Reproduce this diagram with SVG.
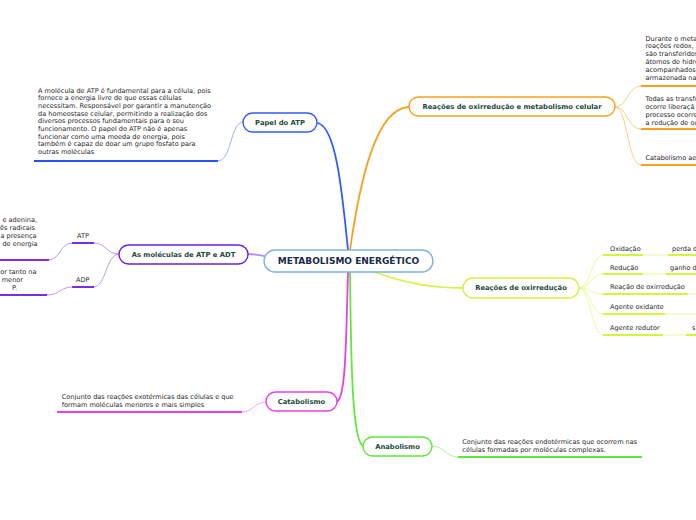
<svg xmlns="http://www.w3.org/2000/svg" width="696" height="520" viewBox="0 0 696 520">
<style>
.bg{fill:#ffffff}
.node{fill:#ffffff;stroke-width:1.4}
.lbl{font-family:"DejaVu Sans",Verdana,sans-serif;font-weight:bold;font-size:6.8px;fill:#1d4a3c;text-anchor:middle}
.center{font-family:"DejaVu Sans",Verdana,sans-serif;font-weight:bold;font-size:9px;fill:#1a2a4c;text-anchor:middle}
.txt{font-family:"DejaVu Sans",Verdana,sans-serif;font-size:6.55px;fill:#2a2a2a}
.end{text-anchor:end}
.c{fill:none;stroke-linecap:round}
.main{stroke-width:1.8}
.thin{stroke-width:0.9}
.ul{stroke-width:2;fill:none}
</style>
<rect class="bg" x="0" y="0" width="696" height="520"/>

<g id="connectors">
  <path class="c main" stroke="#2f5cf5" d="M348,250 C342,190 336,128 318,123"/>
  <path class="c main" stroke="#f7a11c" d="M350,250 C360,180 376,108 409,107"/>
  <path class="c main" stroke="#b48cf2" d="M264,256 C258,255 254,254 248,254"/>
  <path class="c main" stroke="#d2f53e" d="M372,271 C400,282 430,288 463,288"/>
  <path class="c main" stroke="#ee3de6" d="M348,272 C346,340 346,396 337,402"/>
  <path class="c main" stroke="#5ee83c" d="M350,272 C351,360 352,440 363,446"/>
  <path class="c thin" stroke="#8fa8f7" d="M218,161 C232,161 230,122 243,122"/>
  <path class="ul" stroke="#2552ea" d="M34,161 L218,161"/>
  <path class="c thin" stroke="#fbc877" d="M615,107 C628,107 627,86 641,86"/>
  <path class="c thin" stroke="#fbc877" d="M615,107 C628,107 627,129 641,129"/>
  <path class="c thin" stroke="#fbc877" d="M615,107 C628,107 627,165 641,165"/>
  <path class="ul" stroke="#f7a11c" d="M641,86 L696,86"/>
  <path class="ul" stroke="#f7a11c" d="M641,129 L696,129"/>
  <path class="ul" stroke="#f7a11c" d="M641,165 L696,165"/>
  <path class="c thin" stroke="#b48cf2" d="M119,254 C106,254 106,243 94,243"/>
  <path class="c thin" stroke="#b48cf2" d="M119,254 C106,254 106,287 94,287"/>
  <path class="ul" stroke="#7a2ee6" d="M72,243 L94,243"/>
  <path class="ul" stroke="#7a2ee6" d="M72,287 L94,287"/>
  <path class="c thin" stroke="#b48cf2" d="M72,243 C60,243 60,260 49,260"/>
  <path class="c thin" stroke="#b48cf2" d="M72,287 C60,287 60,295 47,295"/>
  <path class="ul" stroke="#7a2ee6" d="M0,260 L49,260"/>
  <path class="ul" stroke="#7a2ee6" d="M0,295 L47,295"/>
  <path class="c thin" stroke="#f59cf0" d="M266,402 C254,402 254,412 242,412"/>
  <path class="ul" stroke="#ee3de6" d="M57,412 L242,412"/>
  <path class="c thin" stroke="#a4f08e" d="M432,446 C445,446 445,457 458,457"/>
  <path class="ul" stroke="#5ee83c" d="M458,457 L642,457"/>
  <path class="c thin" stroke="#e4fa92" d="M579,288 C591,288 591,255 603,255"/>
  <path class="c thin" stroke="#e4fa92" d="M579,288 C591,288 591,274 603,274"/>
  <path class="c thin" stroke="#e4fa92" d="M579,288 C591,288 591,294 603,294"/>
  <path class="c thin" stroke="#e4fa92" d="M579,288 C591,288 591,314 603,314"/>
  <path class="c thin" stroke="#e4fa92" d="M579,288 C591,288 591,335 603,335"/>
  <path class="ul" stroke="#d2f53e" d="M603,255 L643,255"/>
  <path class="c thin" stroke="#e4fa92" d="M643,255 L668,255"/>
  <path class="ul" stroke="#d2f53e" d="M668,255 L696,255"/>
  <path class="ul" stroke="#d2f53e" d="M603,274 L643,274"/>
  <path class="c thin" stroke="#e4fa92" d="M643,274 L666,274"/>
  <path class="ul" stroke="#d2f53e" d="M666,274 L696,274"/>
  <path class="ul" stroke="#d2f53e" d="M603,294 L688,294"/>
  <path class="c thin" stroke="#e4fa92" d="M688,294 L696,294"/>
  <path class="ul" stroke="#d2f53e" d="M603,314 L665,314"/>
  <path class="c thin" stroke="#e4fa92" d="M665,314 L696,314"/>
  <path class="ul" stroke="#d2f53e" d="M603,335 L663,335"/>
  <path class="c thin" stroke="#e4fa92" d="M663,335 L686,335"/>
  <path class="ul" stroke="#d2f53e" d="M686,335 L696,335"/>
</g>

<g id="center">
  <rect class="node" x="264" y="250" width="169" height="22" rx="11" stroke="#7fb0de"/>
  <text class="center" x="348.5" y="264.3">METABOLISMO ENERGÉTICO</text>
</g>

<g id="papel-atp">
  <rect class="node" x="243" y="113" width="74" height="19" rx="9.5" stroke="#2f5cf5"/>
  <text class="lbl" x="280" y="124.8">Papel do ATP</text>
</g>
<g id="papel-atp-text">
  <text class="txt" x="38" y="92.5">A molécula de ATP é fundamental para a célula, pois</text>
  <text class="txt" x="38" y="100.2">fornece a energia livre de que essas células</text>
  <text class="txt" x="38" y="107.9">necessitam. Responsável por garantir a manutenção</text>
  <text class="txt" x="38" y="115.6">da homeostase celular, permitindo a realização dos</text>
  <text class="txt" x="38" y="123.3">diversos processos fundamentais para o seu</text>
  <text class="txt" x="38" y="131">funcionamento. O papel do ATP não é apenas</text>
  <text class="txt" x="38" y="138.7">funcionar como uma moeda de energia, pois</text>
  <text class="txt" x="38" y="146.4">também é capaz de doar um grupo fosfato para</text>
  <text class="txt" x="38" y="154.1">outras moléculas</text>
</g>

<g id="redox-metabolismo">
  <rect class="node" x="409" y="97" width="206" height="19" rx="9.5" stroke="#f7a11c"/>
  <text class="lbl" x="512" y="109">Reações de oxirredução e metabolismo celular</text>
</g>
<g id="redox-metabolismo-text">
  <text class="txt" x="645.5" y="40.6">Durante o meta</text>
  <text class="txt" x="645.5" y="48.4">reações redox,</text>
  <text class="txt" x="645.5" y="56.2">são transferidos</text>
  <text class="txt" x="645.5" y="64">átomos de hidro</text>
  <text class="txt" x="645.5" y="71.8">acompanhados</text>
  <text class="txt" x="645.5" y="79.6">armazenada na</text>
  <text class="txt" x="645.5" y="101.3">Todas as transfe</text>
  <text class="txt" x="645.5" y="109.1">ocorre liberaçã</text>
  <text class="txt" x="645.5" y="116.9">processo ocorre</text>
  <text class="txt" x="645.5" y="124.7">a redução de ou</text>
  <text class="txt" x="645.5" y="159.6">Catabolismo ae</text>
</g>

<g id="moleculas">
  <rect class="node" x="119" y="245" width="129" height="19" rx="9.5" stroke="#6a1fe0"/>
  <text class="lbl" x="183.5" y="257">As moléculas de ATP e ADT</text>
</g>
<g id="atp">
  <text class="txt" x="77" y="238.3">ATP</text>
  <text class="txt end" x="37" y="222.3">e adenina,</text>
  <text class="txt end" x="35" y="230.1">rês radicais</text>
  <text class="txt end" x="36.5" y="237.9">a presença</text>
  <text class="txt end" x="37.5" y="245.7">e de energia</text>
</g>
<g id="adp">
  <text class="txt" x="76" y="281.6">ADP</text>
  <text class="txt end" x="36.5" y="274">or tanto na</text>
  <text class="txt end" x="23" y="281.8">menor</text>
  <text class="txt end" x="17" y="289.6">P.</text>
</g>

<g id="oxirreducao">
  <rect class="node" x="463" y="278" width="116" height="20" rx="10" stroke="#d2f53e"/>
  <text class="lbl" x="521" y="290.3">Reações de oxirredução</text>
</g>
<g id="oxirreducao-children">
  <text class="txt" x="610" y="250.6">Oxidação</text>
  <text class="txt" x="672" y="250.6">perda d</text>
  <text class="txt" x="610" y="269.6">Redução</text>
  <text class="txt" x="670" y="269.6">ganho d</text>
  <text class="txt" x="610" y="289">Reação de oxirredução</text>
  <text class="txt" x="610" y="309">Agente oxidante</text>
  <text class="txt" x="610" y="329.6">Agente redutor</text>
  <text class="txt" x="692" y="329.6">s</text>
</g>

<g id="catabolismo">
  <rect class="node" x="266" y="392" width="71" height="19" rx="9.5" stroke="#ee3de6"/>
  <text class="lbl" x="301.5" y="404">Catabolismo</text>
  <text class="txt" x="61.7" y="399">Conjunto das reações exotérmicas das células e que</text>
  <text class="txt" x="61.7" y="406.6">formam moléculas menores e mais simples</text>
</g>

<g id="anabolismo">
  <rect class="node" x="363" y="437" width="69" height="19" rx="9.5" stroke="#5ee83c"/>
  <text class="lbl" x="397.5" y="449">Anabolismo</text>
  <text class="txt" x="462.3" y="444">Conjunto das reações endotérmicas que ocorrem nas</text>
  <text class="txt" x="462.3" y="451.6">células formadas por moléculas complexas.</text>
</g>
</svg>
